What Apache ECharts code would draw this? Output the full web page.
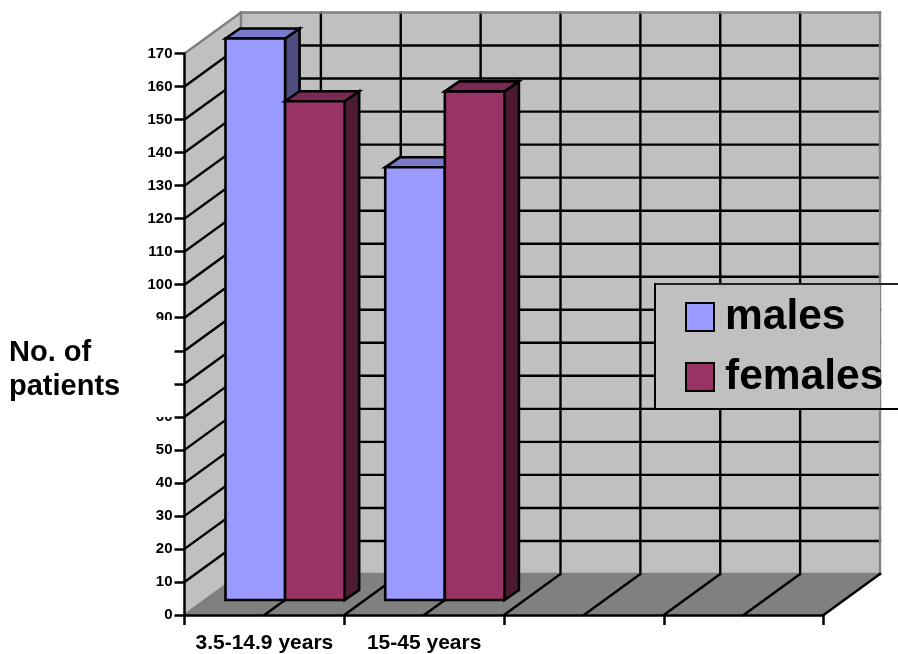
<!DOCTYPE html>
<html>
<head>
<meta charset="utf-8">
<style>html,body{margin:0;padding:0;background:#fff}#chart{width:898px;height:654px}</style>
<script src="https://cdn.jsdelivr.net/npm/echarts@6/dist/echarts.min.js"></script>
</head>
<body>
<div id="chart"></div>
<script>
// Patient counts by age band
const categories = ['3.5-14.9 years', '15-45 years', '', ''];
const males = [170, 131];
const females = [151, 154];
const yTicks = [0, 170, 10];

// Oblique projection used for the box walls and the bars
const WALL_DX = 56.5, WALL_DY = -41;
const FRONT_DX = 20.7, FRONT_DY = -15;
const BAR_DX = 14.5, BAR_DY = -10;
const BAR_SHARE = 119 / 159.5 / 2;

const FONT = '"Liberation Sans", Arial, sans-serif';
const WALL = '#c0c0c0', EDGE = '#808080', FLOOR = '#808080', INK = '#000';

const line = (a, b, stroke, z2) => ({
  type: 'line', z2: z2 || 1,
  shape: { x1: a[0], y1: a[1], x2: b[0], y2: b[1] },
  style: { stroke, lineWidth: 2.4, lineCap: 'square' }
});
const poly = (points, fill) => ({
  type: 'polygon', shape: { points }, style: { fill, stroke: null }
});
const back = p => [p[0] + WALL_DX, p[1] + WALL_DY];

// Side wall, back wall, floor and their grid lines
function renderWalls(params, api) {
  const band = api.size([1, 0])[0];
  const left = api.coord([0, 0])[0] - band / 2;
  const right = api.coord([categories.length - 1, 0])[0] + band / 2;
  const y0 = api.coord([0, yTicks[0]])[1];
  const yTop = api.coord([0, yTicks[1]])[1];
  const children = [
    poly([[left, y0], [left, yTop], back([left, yTop]), back([left, y0])], WALL),
    poly([back([left, yTop]), back([right, yTop]), back([right, y0]), back([left, y0])], WALL),
    poly([[left, y0], [right, y0], back([right, y0]), back([left, y0])], FLOOR)
  ];
  for (let v = yTicks[0] + yTicks[2]; v < yTicks[1]; v += yTicks[2]) {
    const y = api.coord([0, v])[1];
    children.push(line([left, y], back([left, y]), INK));
    children.push(line(back([left, y]), back([right, y]), INK));
  }
  for (let i = 0; i < categories.length * 2; i++) {
    const x = left + band * (i + 1) / 2;
    if (i < categories.length * 2 - 1) {
      children.push(line(back([x, yTop]), back([x, y0]), INK));
    }
    children.push(line([x, y0], back([x, y0]), INK, 3));
  }
  children.push(line([left, yTop], back([left, yTop]), EDGE, 2));
  children.push(line(back([left, yTop]), back([right, yTop]), EDGE, 2));
  children.push(line(back([left, yTop]), back([left, y0]), EDGE, 2));
  children.push(line(back([right, yTop]), back([right, y0]), EDGE, 2));
  children.push(line(back([left, y0]), back([right, y0]), EDGE, 2));
  children.push(line([left, y0], back([left, y0]), EDGE, 2));
  return { type: 'group', children };
}

// One 3D bar: side = 0 sits left of the category centre, side = 1 right of it
function barRenderer(side, faces) {
  return function (params, api) {
    const band = api.size([1, 0])[0];
    const width = band * BAR_SHARE;
    const c = api.coord([api.value(0), 0]);
    const top = api.coord([api.value(0), api.value(1)])[1] + FRONT_DY;
    const bottom = c[1] + FRONT_DY;
    const x0 = c[0] + FRONT_DX + (side - 1) * width;
    const x1 = x0 + width;
    const face = (points, fill) => ({
      type: 'polygon', shape: { points },
      style: { fill, stroke: INK, lineWidth: 2.6, lineJoin: 'miter' }
    });
    return {
      type: 'group',
      children: [
        face([[x1, top], [x1 + BAR_DX, top + BAR_DY], [x1 + BAR_DX, bottom + BAR_DY], [x1, bottom]], faces.side),
        face([[x0, top], [x0 + BAR_DX, top + BAR_DY], [x1 + BAR_DX, top + BAR_DY], [x1, top]], faces.top),
        face([[x0, top], [x1, top], [x1, bottom], [x0, bottom]], faces.front)
      ]
    };
  };
}

const pairs = values => values.map((v, i) => [i, v]);

const chart = echarts.init(document.getElementById('chart'), null, { renderer: 'canvas' });
chart.setOption({
  animation: false,
  backgroundColor: '#fff',
  grid: { left: 184.5, top: 53.5, width: 639, height: 561.5 },
  title: {
    text: 'No. of\npatients',
    left: 0, top: 320,
    padding: [16, 53, 13, 9],
    backgroundColor: '#fff',
    z: 20,
    textStyle: { fontFamily: FONT, fontWeight: 'bold', fontSize: 29, lineHeight: 34, color: INK }
  },
  legend: {
    data: ['males', 'females'],
    orient: 'vertical',
    left: 685, top: 295.5,
    padding: 0,
    itemWidth: 28, itemHeight: 28, itemGap: 17,
    icon: 'rect',
    selectedMode: false,
    itemStyle: { borderColor: INK, borderWidth: 2 },
    textStyle: { fontFamily: FONT, fontWeight: 'bold', fontSize: 42.5, color: INK, padding: [4, 0, 0, 6] }
  },
  graphic: [
    { type: 'rect', z: 3, shape: { x: 656, y: 284, width: 224, height: 125 }, style: { fill: WALL } },
    { type: 'line', z: 3, shape: { x1: 655, y1: 284, x2: 898, y2: 284 }, style: { stroke: '#222', lineWidth: 2 } },
    { type: 'line', z: 3, shape: { x1: 655, y1: 283, x2: 655, y2: 410 }, style: { stroke: INK, lineWidth: 2 } },
    { type: 'line', z: 3, shape: { x1: 655, y1: 409, x2: 898, y2: 409 }, style: { stroke: INK, lineWidth: 2 } }
  ],
  xAxis: {
    type: 'category',
    data: categories,
    z: 10,
    axisLine: { lineStyle: { color: INK, width: 2.5 } },
    axisTick: { show: true, alignWithLabel: false, length: 10, lineStyle: { color: INK, width: 2.5 } },
    axisLabel: { margin: 18, interval: 0, fontFamily: FONT, fontWeight: 'bold', fontSize: 21, color: INK },
    splitLine: { show: false }
  },
  yAxis: {
    type: 'value',
    min: yTicks[0], max: yTicks[1], interval: yTicks[2],
    z: 10,
    axisLine: { show: true, lineStyle: { color: INK, width: 2.5 } },
    axisTick: { show: true, length: 10, lineStyle: { color: INK, width: 2.5 } },
    axisLabel: { margin: 12, fontFamily: FONT, fontWeight: 'bold', fontSize: 15, color: INK },
    splitLine: { show: false }
  },
  series: [
    { type: 'custom', name: 'walls', silent: true, z: 1, renderItem: renderWalls, data: [[0, 0]] },
    {
      type: 'custom', name: 'males', z: 2, itemStyle: { color: '#9999ff' },
      renderItem: barRenderer(0, { front: '#9999ff', top: '#7a7acc', side: '#4d4d80' }),
      data: pairs(males), encode: { x: 0, y: 1 }
    },
    {
      type: 'custom', name: 'females', z: 2, itemStyle: { color: '#993366' },
      renderItem: barRenderer(1, { front: '#993366', top: '#7a2952', side: '#4d1a33' }),
      data: pairs(females), encode: { x: 0, y: 1 }
    }
  ]
});
</script>
</body>
</html>
